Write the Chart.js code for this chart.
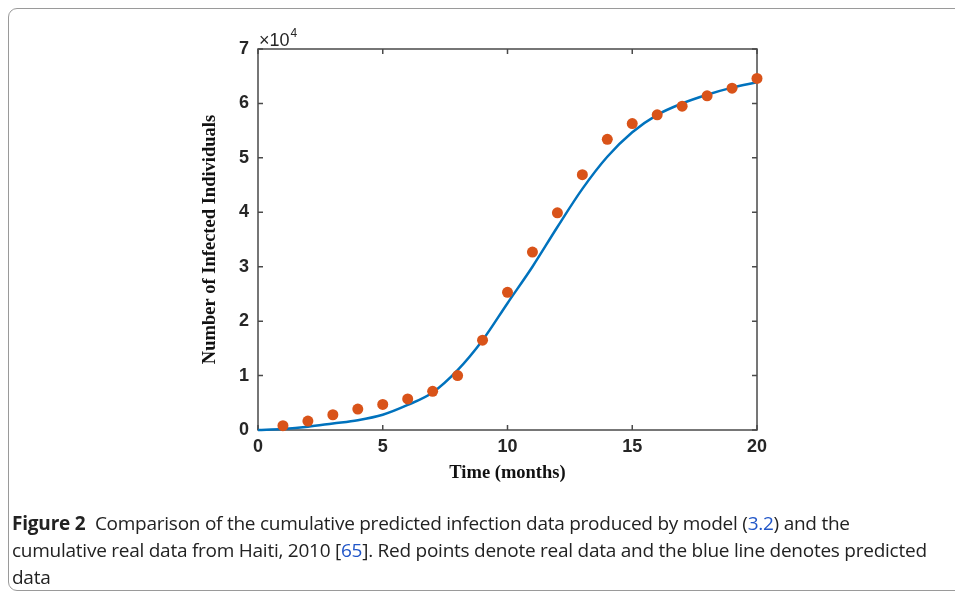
<!DOCTYPE html>
<html>
<head>
<meta charset="utf-8">
<script src="https://cdn.jsdelivr.net/npm/chart.js@4/dist/chart.umd.min.js"></script>
<style>
  html, body { margin: 0; padding: 0; background: #fff; }
  body { width: 955px; height: 596px; position: relative; overflow: hidden; }
  #frame { position: absolute; left: 8px; top: 8px; width: 980px; height: 583px;
           border: 1px solid #9a9a9a; border-radius: 9px; box-sizing: border-box; }
  #c { position: absolute; left: 0; top: 0; }
  #caption { position: absolute; left: 12px; top: 510px; width: 940px;
             font-family: "Open Sans", sans-serif; font-size: 19px; line-height: 27px;
             color: #222; letter-spacing: -0.25px; white-space: nowrap; }
  #caption b { font-weight: 700; letter-spacing: -0.2px; }
  #caption a { color: #2156c8; text-decoration: none; }
</style>
</head>
<body>
<div id="frame"></div>
<canvas id="c" width="955" height="596"></canvas>
<div id="caption"><b>Figure 2</b>&nbsp; Comparison of the cumulative predicted infection data produced by model (<a>3.2</a>) and the<br>cumulative real data from Haiti, 2010 [<a>65</a>]. Red points denote real data and the blue line denotes predicted<br>data</div>
<script>
// Time in months
const curveMonths = [0,1,2,3,4,5,6,7,8,9,10,11,12,13,14,15,16,17,18,19,20];
// Predicted cumulative infections (model curve)
const predicted = [0,200,600,1200,1800,2800,4600,6900,11000,16500,23300,30000,37300,44300,50200,54700,57900,60000,61600,62900,63900];
// Real data months
const realMonths = [1,2,3,4,5,6,7,8,9,10,11,12,13,14,15,16,17,18,19,20];
// Real cumulative infections (Haiti, 2010)
const realData = [800,1650,2800,3850,4700,5700,7100,10000,16500,25300,32700,39900,46900,53400,56300,57900,59500,61400,62800,64600];
// Axis ticks
const xTicks = [0,5,10,15,20];
const yTickLabels = ['0','1','2','3','4','5','6','7'];

const AXIS = '#4a4a4a';
const TICKC = '#262626';

const boxPlugin = {
  id: 'box',
  beforeDatasetsDraw(chart) {
    const {ctx, chartArea: {left, right, top, bottom}, scales: {x, y}} = chart;
    ctx.save();
    ctx.strokeStyle = AXIS;
    ctx.lineWidth = 1.5;
    ctx.strokeRect(left, top, right - left, bottom - top);
    ctx.beginPath();
    x.ticks.forEach(t => {
      const px = x.getPixelForValue(t.value);
      ctx.moveTo(px, bottom); ctx.lineTo(px, bottom - 5);
      ctx.moveTo(px, top); ctx.lineTo(px, top + 5);
    });
    y.ticks.forEach(t => {
      const py = y.getPixelForValue(t.value);
      ctx.moveTo(left, py); ctx.lineTo(left + 5, py);
      ctx.moveTo(right, py); ctx.lineTo(right - 5, py);
    });
    ctx.stroke();
    // exponent label
    ctx.fillStyle = TICKC;
    ctx.textBaseline = 'alphabetic';
    ctx.textAlign = 'left';
    ctx.font = '18px "Liberation Sans", Arial, sans-serif';
    ctx.fillText('\u00d710', left + 1, top - 3);
    const w = ctx.measureText('\u00d710').width;
    ctx.font = '12px "Liberation Sans", Arial, sans-serif';
    ctx.fillText('4', left + 2 + w, top - 12);
    ctx.restore();
  }
};

new Chart(document.getElementById('c'), {
  type: 'scatter',
  data: {
    datasets: [
      {
        label: 'Real data',
        data: realMonths.map((m, i) => ({x: m, y: realData[i]})),
        backgroundColor: '#D95319',
        borderColor: '#D95319',
        pointRadius: 5.5,
        pointBorderWidth: 0,
        showLine: false,
        clip: false
      },
      {
        label: 'Predicted',
        data: curveMonths.map((m, i) => ({x: m, y: predicted[i]})),
        borderColor: '#0072BD',
        backgroundColor: '#0072BD',
        borderWidth: 2.5,
        pointRadius: 0,
        showLine: true,
        cubicInterpolationMode: 'monotone',
        clip: false
      }
    ]
  },
  options: {
    responsive: false,
    animation: false,
    events: [],
    layout: { padding: { left: 193, right: 198, top: 49, bottom: 112 } },
    plugins: { legend: { display: false }, tooltip: { enabled: false } },
    scales: {
      x: {
        type: 'linear', min: 0, max: 20,
        afterBuildTicks(s) { s.ticks = xTicks.map(v => ({value: v})); },
        afterFit(s) { s.height = 54; },
        grid: { display: false, drawTicks: false },
        border: { display: false },
        ticks: { color: TICKC, padding: 6, font: { family: '"Liberation Sans", Arial, sans-serif', size: 18, weight: 'bold' } },
        title: { display: true, text: 'Time (months)', color: '#111', padding: 0,
                 font: { family: '"Liberation Serif", "Times New Roman", serif', size: 18.5, weight: 'bold' } }
      },
      y: {
        type: 'linear', min: 0, max: 70000,
        afterBuildTicks(s) { s.ticks = yTickLabels.map((l, i) => ({value: i * 10000})); },
        afterFit(s) { s.width = 65; },
        grid: { display: false, drawTicks: false },
        border: { display: false },
        ticks: { color: TICKC, padding: 9,
                 callback: (v, i) => yTickLabels[i],
                 font: { family: '"Liberation Sans", Arial, sans-serif', size: 18, weight: 'bold' } },
        title: { display: true, text: 'Number of Infected Individuals', color: '#111', padding: { top: 6, bottom: 0 },
                 font: { family: '"Liberation Serif", "Times New Roman", serif', size: 18.5, weight: 'bold' } }
      }
    }
  },
  plugins: [boxPlugin]
});
</script>
</body>
</html>
